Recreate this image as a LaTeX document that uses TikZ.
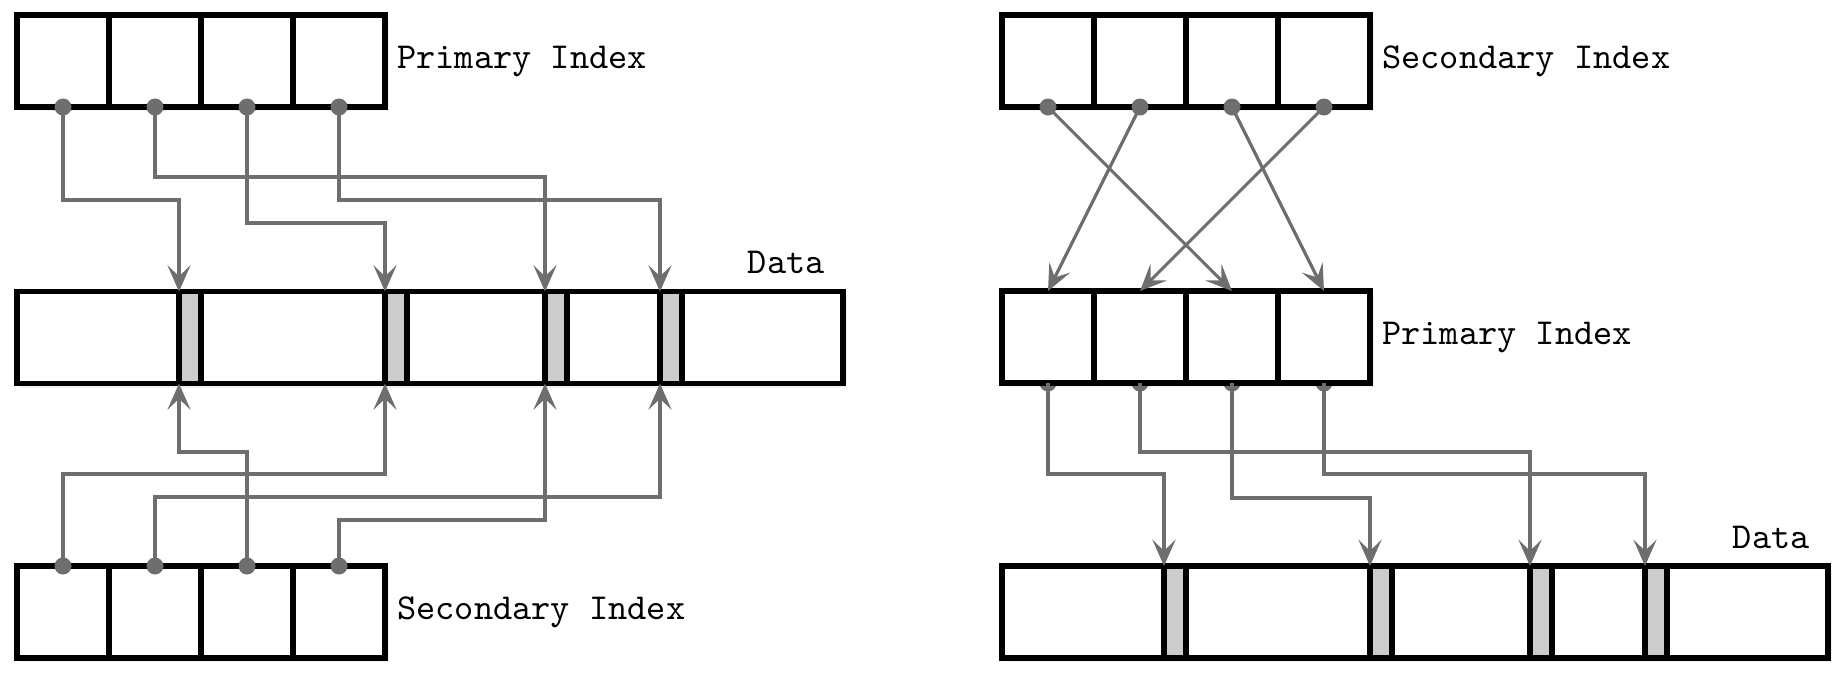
\documentclass[tikz,border=0pt]{standalone}
\usepackage{tikz}
\usetikzlibrary{positioning}
\usetikzlibrary{arrows.meta,shadows,backgrounds}

\tikzset{
cell/.style={draw,line width=1.6pt,fill=white,minimum size=0.92cm,inner sep=0pt,outer sep=0pt,
  drop shadow={shadow xshift=0.04cm,shadow yshift=-0.04cm,opacity=0.12}},
databox/.style={cell,minimum width=8.26cm,minimum height=0.92cm},
slot/.style={draw,line width=1.6pt,fill=black!20,minimum width=0.22cm,minimum height=0.92cm,
  inner sep=0pt,outer sep=0pt,anchor=west},
link/.style={draw=black!57,line width=0.9pt,-{Stealth[length=7.5pt,width=6.6pt,inset=3.2pt]}},
pin/.style={fill=black!57}
}

\begin{document}
\begin{tikzpicture}[font=\fontsize{10.4}{12}\selectfont\ttfamily]
\useasboundingbox (0,0) rectangle (18.46,-6.78);

\node[cell] (lp1) at (0.63,-0.61) {};
\node[cell,right=0pt of lp1] (lp2) {};
\node[cell,right=0pt of lp2] (lp3) {};
\node[cell,right=0pt of lp3] (lp4) {};
\node[right=0pt of lp4] (lpt) {Primary Index};

\node[databox] (ld) at (4.30,-3.375) {};
\path (1.79,-3.375) node[slot](lb1){} (3.85,-3.375) node[slot](lb2){}
(5.45,-3.375) node[slot](lb3){} (6.60,-3.375) node[slot](lb4){};
\node[above left=0.05cm and 0.06cm of ld.north east] (ldt) {Data};

\node[cell] (ls1) at (0.63,-6.12) {};
\node[cell,right=0pt of ls1] (ls2) {};
\node[cell,right=0pt of ls2] (ls3) {};
\node[cell,right=0pt of ls3] (ls4) {};
\node[right=0pt of ls4] (lst) {Secondary Index};

\draw[link] (lp1.south) -- ++(0,-0.93) -| (lb1.north west);
\draw[link] (lp2.south) -- ++(0,-0.70) -| (lb3.north west);
\draw[link] (lp3.south) -- ++(0,-1.16) -| (lb2.north west);
\draw[link] (lp4.south) -- ++(0,-0.93) -| (lb4.north west);
\draw[link] (ls1.north) -- ++(0,0.92) -| (lb2.south west);
\draw[link] (ls2.north) -- ++(0,0.69) -| (lb4.south west);
\draw[link] (ls3.north) -- ++(0,1.14) -| (lb1.south west);
\draw[link] (ls4.north) -- ++(0,0.46) -| (lb3.south west);
\fill[pin] (lp1.south) circle (0.085) (lp2.south) circle (0.085)
(lp3.south) circle (0.085) (lp4.south) circle (0.085);
\fill[pin] (ls1.north) circle (0.085) (ls2.north) circle (0.085)
(ls3.north) circle (0.085) (ls4.north) circle (0.085);

\node[cell] (rs1) at (10.48,-0.61) {};
\node[cell,right=0pt of rs1] (rs2) {};
\node[cell,right=0pt of rs2] (rs3) {};
\node[cell,right=0pt of rs3] (rs4) {};
\node[right=0pt of rs4] (rst) {Secondary Index};

\node[cell] (rp1) at (10.48,-3.37) {};
\node[cell,right=0pt of rp1] (rp2) {};
\node[cell,right=0pt of rp2] (rp3) {};
\node[cell,right=0pt of rp3] (rp4) {};
\node[right=0pt of rp4] (rpt) {Primary Index};

\node[databox] (rd) at (14.15,-6.12) {};
\path (11.64,-6.12) node[slot](rb1){} (13.70,-6.12) node[slot](rb2){}
(15.30,-6.12) node[slot](rb3){} (16.45,-6.12) node[slot](rb4){};
\node[above left=0.05cm and 0.06cm of rd.north east] (rdt) {Data};

\draw[link] (rs1.south) -- (rp3.north);
\draw[link] (rs2.south) -- (rp1.north);
\draw[link] (rs3.south) -- (rp4.north);
\draw[link] (rs4.south) -- (rp2.north);
\fill[pin] (rs1.south) circle (0.085) (rs2.south) circle (0.085)
(rs3.south) circle (0.085) (rs4.south) circle (0.085);

\begin{scope}[on background layer]
\fill[pin] (rp1.south) circle (0.085) (rp2.south) circle (0.085)
(rp3.south) circle (0.085) (rp4.south) circle (0.085);
\end{scope}
\draw[link] (rp1.south) -- ++(0,-0.91) -| (rb1.north west);
\draw[link] (rp2.south) -- ++(0,-0.69) -| (rb3.north west);
\draw[link] (rp3.south) -- ++(0,-1.15) -| (rb2.north west);
\draw[link] (rp4.south) -- ++(0,-0.91) -| (rb4.north west);
\end{tikzpicture}
\end{document}
